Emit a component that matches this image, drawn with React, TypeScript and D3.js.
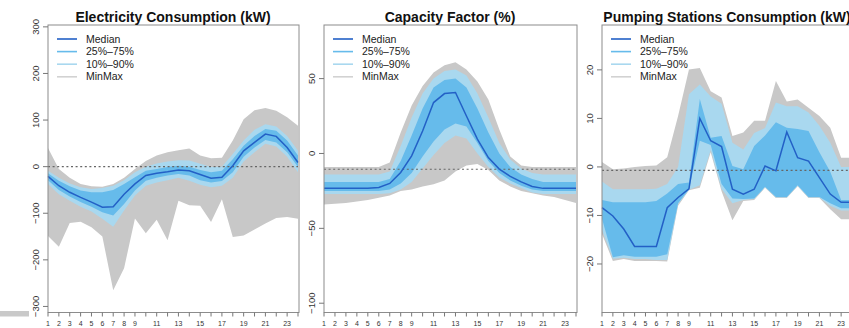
import React, { useRef, useEffect } from "react";
import * as d3 from "d3";

const hours = [1, 2, 3, 4, 5, 6, 7, 8, 9, 10, 11, 12, 13, 14, 15, 16, 17, 18, 19, 20, 21, 22, 23, 24];
const hourLabels = [1, 2, 3, 4, 5, 6, 7, 8, 9, 11, 13, 15, 17, 19, 21, 23];

// Electricity Consumption (kW)
const elecMax = [40, -5, -24, -37, -42, -43, -37, -24, -5, 12, 24, 31, 35, 39, 24, 18, 19, 56, 102, 121, 126, 120, 106, 88];
const elecP90 = [-9, -24, -36, -44, -48, -46, -41, -29, -12, 0, 7, 11, 14, 13, 6, -1, 0, 27, 56, 79, 91, 86, 66, 34];
const elecP75 = [-14, -30, -42, -51, -55, -55, -50, -37, -23, -9, -5, -1, 2, 0, -7, -12, -9, 16, 45, 66, 81, 77, 56, 24];
const elecMed = [-21, -41, -55, -66, -76, -87, -86, -59, -37, -19, -14, -11, -7, -9, -17, -25, -23, 2, 34, 52, 70, 65, 41, 9];
const elecP25 = [-29, -50, -64, -76, -86, -98, -105, -80, -51, -30, -24, -19, -16, -19, -29, -34, -31, -12, 21, 41, 57, 52, 31, -1];
const elecP10 = [-37, -59, -73, -86, -96, -112, -129, -94, -62, -41, -34, -29, -24, -30, -39, -44, -41, -24, 11, 31, 49, 43, 21, -12];
const elecMin = [-149, -172, -121, -118, -130, -150, -265, -218, -111, -143, -114, -158, -73, -83, -84, -119, -70, -151, -148, -135, -122, -110, -108, -112];

// Capacity Factor (%)
const cfMax = [-9, -9, -9, -9, -9, -9, -6, 14, 32, 45, 54, 59, 61, 56, 48, 36, 16, -2, -8, -9, -9, -9, -9, -9];
const cfP90 = [-14, -14, -14, -14, -14, -14, -12, 5, 24, 40, 50, 55, 56, 52, 40, 24, 7, -4, -10, -13, -14, -14, -14, -14];
const cfP75 = [-19, -19, -19, -19, -19, -19, -17, -5, 12, 30, 44, 49, 50, 44, 30, 14, 0, -9, -14, -17, -19, -19, -19, -19];
const cfMed = [-23.3, -23.3, -23.3, -23.3, -23.3, -22.7, -20, -12.7, -1.6, 15, 34, 40, 40.7, 25, 9.6, -2.7, -10.4, -15.3, -19, -22, -23.3, -23.3, -23.3, -23.3];
const cfP25 = [-25, -25, -25, -25, -25, -25, -24, -20, -13, -2, 8, 16, 20, 18, 7, -5, -13, -18, -21.5, -24, -25, -25, -25, -25];
const cfP10 = [-27, -27, -27, -27, -27, -27, -26.5, -24, -19, -10, -1, 7, 12, 10, 0, -9, -16, -20, -23, -26, -27, -27, -27, -27];
const cfMin = [-34, -33.5, -33, -32, -31, -29.5, -28, -25, -24, -22, -20.5, -18, -12, -8, -7, -11, -18, -22, -25, -26.5, -28, -29, -31, -33];

// Pumping Stations Consumption (kW)
const pumpMax = [1, -0.5, -0.3, 0, 0.2, 0.3, 2, 10.5, 20.1, 20.4, 15.6, 14.3, 6.4, 7.1, 9.5, 9.5, 17.7, 13.5, 13.9, 12.2, 10.5, 8.1, 1.9, 1.9];
const pumpP90 = [-3, -4.6, -4.6, -4.6, -4.6, -4.5, -3.5, 0, 15, 17, 14.5, 13, 5, 3.6, 7, 8, 13.3, 12.5, 12.5, 11.2, 8.5, 5, 0, 0];
const pumpP75 = [-6.8, -7.3, -7.3, -7.3, -7.3, -7, -5.5, -3.5, -3.2, 14, 6, 6.4, 0.2, -0.5, 4.3, 6.5, 9.2, 8.1, 7.8, 7.4, 3, -1, -6.8, -6.8];
const pumpMed = [-8.4, -10.1, -12.8, -16.4, -16.4, -16.4, -8.4, -6.3, -4.5, 10, 5.4, 4.2, -4.6, -5.6, -4.6, 0.2, -0.8, 7.2, 1.9, 1.2, -2.2, -5.6, -7.3, -7.3];
const pumpP25 = [-10.7, -18.6, -18.2, -18.5, -18.5, -18.5, -18, -7.5, -4.6, 5.4, 4.5, -3.5, -6.5, -6.6, -6.5, -4.1, -6.2, -6.2, -3.8, -6.2, -6.2, -7.5, -8.5, -8.5];
const pumpP10 = [-13, -18.9, -18.7, -19, -19, -19.2, -19.2, -7.7, -4.7, -3.8, 3.5, -4.5, -7.5, -6.8, -6.6, -4.2, -6.3, -6.3, -3.9, -6.3, -6.3, -8, -9, -9];
const pumpMin = [-13.8, -19.4, -19, -19.4, -19.4, -19.4, -19.5, -8, -4.8, -4.3, 3, -5, -11, -7, -6.8, -4.3, -6.4, -6.4, -4, -6.4, -6.4, -8.7, -10.8, -10.8];

const titles = ["Electricity Consumption (kW)", "Capacity Factor (%)", "Pumping Stations Consumption (kW)"];
const yTicks = [
  [-300, -200, -100, 0, 100, 200, 300],
  [-100, -50, 0, 50],
  [-20, -10, 0, 10, 20],
];
const refLines = [0, -10.5, -0.7];
const legendLabels = ["Median", "25%\u201375%", "10%\u201390%", "MinMax"];

const series = [
  { min: elecMin, p10: elecP10, p25: elecP25, med: elecMed, p75: elecP75, p90: elecP90, max: elecMax },
  { min: cfMin, p10: cfP10, p25: cfP25, med: cfMed, p75: cfP75, p90: cfP90, max: cfMax },
  { min: pumpMin, p10: pumpP10, p25: pumpP25, med: pumpMed, p75: pumpP75, p90: pumpP90, max: pumpMax },
];

const width = 849;
const height = 328;
const top = 25;
const bottom = 312.5;
const panelX = [
  [48, 298],
  [324, 576],
  [602, 852],
];
const yDomains = [
  [-313, 304],
  [-106.2, 85.8],
  [-30, 29.25],
];

const grey = "#c8c8c8";
const lightBlue = "#a9d8ef";
const midBlue = "#66bbeb";
const medianBlue = "#2360c6";
const font = "'Liberation Sans', Arial, Helvetica, sans-serif";

const App = () => {
  const ref = useRef(null);

  useEffect(() => {
    const svg = d3.select(ref.current);
    svg.selectAll("*").remove();
    svg.attr("width", width).attr("height", height).attr("viewBox", [0, 0, width, height]);

    svg.append("rect").attr("width", width).attr("height", height).attr("fill", "#fff");

    series.forEach((s, i) => {
      const [x0, x1] = panelX[i];
      const x = d3.scaleLinear().domain([1, 24]).range([x0, x1]);
      const y = d3.scaleLinear().domain(yDomains[i]).range([bottom, top]);
      const g = svg.append("g");

      const band = (lo, hi, color) => {
        const area = d3.area()
          .x((d) => x(d))
          .y0((d, k) => y(lo[k]))
          .y1((d, k) => y(hi[k]));
        g.append("path").datum(hours).attr("d", area).attr("fill", color);
      };
      band(s.min, s.max, grey);
      band(s.p10, s.p90, lightBlue);
      band(s.p25, s.p75, midBlue);

      g.append("line")
        .attr("x1", x0).attr("x2", x1)
        .attr("y1", y(refLines[i])).attr("y2", y(refLines[i]))
        .attr("stroke", "#666").attr("stroke-width", 1.1)
        .attr("stroke-dasharray", "2,2.6");

      const line = d3.line().x((d) => x(d)).y((d, k) => y(s.med[k]));
      g.append("path").datum(hours).attr("d", line)
        .attr("fill", "none").attr("stroke", medianBlue).attr("stroke-width", 1.5);

      // box
      g.append("rect")
        .attr("x", x0).attr("y", top)
        .attr("width", x1 - x0 + 1).attr("height", bottom - top)
        .attr("fill", "none").attr("stroke", "#8c8c8c").attr("stroke-width", 1);

      // y axis
      yTicks[i].forEach((t) => {
        g.append("line")
          .attr("x1", x0 - 5).attr("x2", x0)
          .attr("y1", y(t)).attr("y2", y(t))
          .attr("stroke", "#777");
        g.append("text")
          .attr("transform", `translate(${x0 - 9},${y(t)}) rotate(-90)`)
          .attr("text-anchor", "middle")
          .attr("font-family", font).attr("font-size", 9.5).attr("fill", "#333")
          .text(t < 0 ? "\u2212" + Math.abs(t) : String(t));
      });

      // x axis
      hours.forEach((h) => {
        g.append("line")
          .attr("x1", x(h)).attr("x2", x(h))
          .attr("y1", bottom).attr("y2", bottom + 4)
          .attr("stroke", "#777");
      });
      hourLabels.forEach((h) => {
        g.append("text")
          .attr("x", x(h)).attr("y", 325.5)
          .attr("text-anchor", "middle")
          .attr("font-family", font).attr("font-size", 7).attr("fill", "#333")
          .text(h);
      });

      // title
      g.append("text")
        .attr("x", (x0 + x1) / 2).attr("y", 22)
        .attr("text-anchor", "middle")
        .attr("font-family", font).attr("font-size", 14).attr("font-weight", "bold")
        .attr("fill", "#111")
        .text(titles[i]);

      // legend
      const legendColors = [medianBlue, midBlue, lightBlue, "#d2d2d2"];
      legendLabels.forEach((lab, k) => {
        const ly = 39 + k * 12.6;
        g.append("line")
          .attr("x1", x0 + 9).attr("x2", x0 + 29)
          .attr("y1", ly).attr("y2", ly)
          .attr("stroke", legendColors[k]).attr("stroke-width", 1.6);
        g.append("text")
          .attr("x", x0 + 38).attr("y", ly + 3.6)
          .attr("font-family", font).attr("font-size", 10.5).attr("fill", "#222")
          .text(lab);
      });
    });

    svg.append("rect")
      .attr("x", 0).attr("y", 311).attr("width", 29).attr("height", 5.5)
      .attr("fill", "#c9c9c9");
  }, []);

  return (
    <div style={{ position: "absolute", left: 0, top: 0 }}>
      <svg ref={ref} style={{ display: "block" }} />
    </div>
  );
};

export default App;
